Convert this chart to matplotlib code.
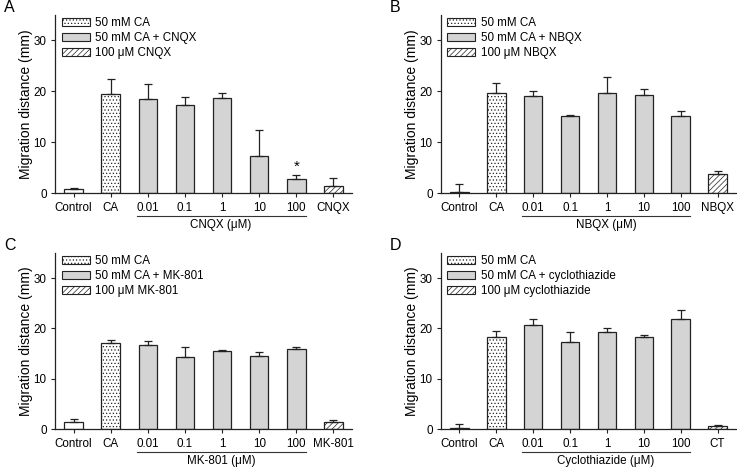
import matplotlib
matplotlib.use('Agg')
import matplotlib.pyplot as plt
from matplotlib.patches import Patch

plt.rcParams['font.family'] = ['Liberation Sans', 'DejaVu Sans']
plt.rcParams['hatch.linewidth'] = 0.5

# Data for the four panels (migration distance, mm)
base_labels = ['Control', 'CA', '0.01', '0.1', '1', '10', '100']

a_vals = [0.8, 19.4, 18.4, 17.35, 18.6, 7.35, 2.8, 1.45]
a_err = [0.25, 3.1, 3.1, 1.55, 1.1, 4.95, 0.8, 1.55]

b_vals = [0.13, 19.7, 19.1, 15.2, 19.6, 19.2, 15.2, 3.7]
b_err = [1.7, 1.95, 1.0, 0.05, 3.3, 1.3, 1.0, 0.55]

c_vals = [1.4, 17.2, 16.7, 14.4, 15.5, 14.6, 16.0, 1.3]
c_err = [0.6, 0.5, 0.8, 1.9, 0.3, 0.7, 0.3, 0.5]

d_vals = [0.2, 18.2, 20.7, 17.4, 19.2, 18.2, 21.9, 0.5]
d_err = [0.7, 1.3, 1.1, 1.8, 0.8, 0.5, 1.8, 0.2]

drugs = ['CNQX', 'NBQX', 'MK-801', 'cyclothiazide']
last_labels = ['CNQX', 'NBQX', 'MK-801', 'CT']
group_labels = ['CNQX (\u03bcM)', 'NBQX (\u03bcM)', 'MK-801 (\u03bcM)', 'Cyclothiazide (\u03bcM)']
letters = ['A', 'B', 'C', 'D']

gray = '#d4d4d4'
edge = '#222222'

fig = plt.figure(figsize=(7.37, 4.67), dpi=100)
W, H = 737, 467
# axes boxes in pixels: left, baseline y, width, height
boxes = [(55, 193, 297, 178), (441, 193, 295, 178),
         (55, 429, 297, 176), (441, 429, 295, 176)]

panels = [(a_vals, a_err), (b_vals, b_err), (c_vals, c_err), (d_vals, d_err)]

for i, (vals, err) in enumerate(panels):
    l, b, w, h = boxes[i]
    ax = fig.add_axes([l / W, (H - b) / H, w / W, h / H])
    x = list(range(len(vals)))
    faces = ['white', 'white'] + [gray] * 5 + ['white']
    hatches = [None, '.....'] + [None] * 5 + ['//////']
    bars = ax.bar(x, vals, width=0.5, color=faces, edgecolor=edge, linewidth=0.9, zorder=2)
    for bar, ht in zip(bars, hatches):
        if ht:
            bar.set_hatch(ht)
    ax.errorbar(x, vals, yerr=[[0] * len(vals), err], fmt='none', ecolor=edge,
                elinewidth=0.9, capsize=3.2, capthick=0.9, zorder=3)

    ax.set_xlim(-0.5, 7.5)
    ax.set_ylim(0, 35)
    ax.set_yticks([0, 10, 20, 30])
    ax.set_xticks(x)
    ax.set_xticklabels(base_labels + [last_labels[i]])
    ax.tick_params(axis='both', direction='out', length=3, width=0.8, labelsize=8.4, color=edge)
    ax.tick_params(axis='x', pad=3.5)
    ax.tick_params(axis='y', pad=3)
    for s in ['top', 'right']:
        ax.spines[s].set_visible(False)
    for s in ['left', 'bottom']:
        ax.spines[s].set_linewidth(0.9)
        ax.spines[s].set_color(edge)
    ax.set_ylabel('Migration distance (mm)', fontsize=10, labelpad=0.5)

    # line and label grouping the concentration bars
    tr = ax.get_xaxis_transform()
    ax.plot([1.7, 6.25], [-0.13, -0.13], transform=tr, color='#333333', lw=0.8, clip_on=False)
    ax.text(3.97, -0.18, group_labels[i], transform=tr, ha='center', va='center', fontsize=8.4)

    handles = [Patch(facecolor='white', edgecolor=edge, hatch='.....', linewidth=0.8),
               Patch(facecolor=gray, edgecolor=edge, linewidth=0.8),
               Patch(facecolor='white', edgecolor=edge, hatch='//////', linewidth=0.8)]
    names = ['50 mM CA', '50 mM CA + ' + drugs[i], '100 \u03bcM ' + drugs[i]]
    ax.legend(handles, names, loc='upper left', bbox_to_anchor=(0.022, 0.99), frameon=False,
              fontsize=8.4, handlelength=2.4, handleheight=0.7, handletextpad=0.45,
              labelspacing=0.26, borderpad=0, borderaxespad=0)

    fig.text((l - 51) / W, 1 - (b - h - 15) / H, letters[i], fontsize=11.5, ha='left', va='top')

# significance mark in panel A
fig.axes[0].text(6, 5.2, '*', ha='center', va='center', fontsize=11)

fig.savefig('out.png', dpi=100)
